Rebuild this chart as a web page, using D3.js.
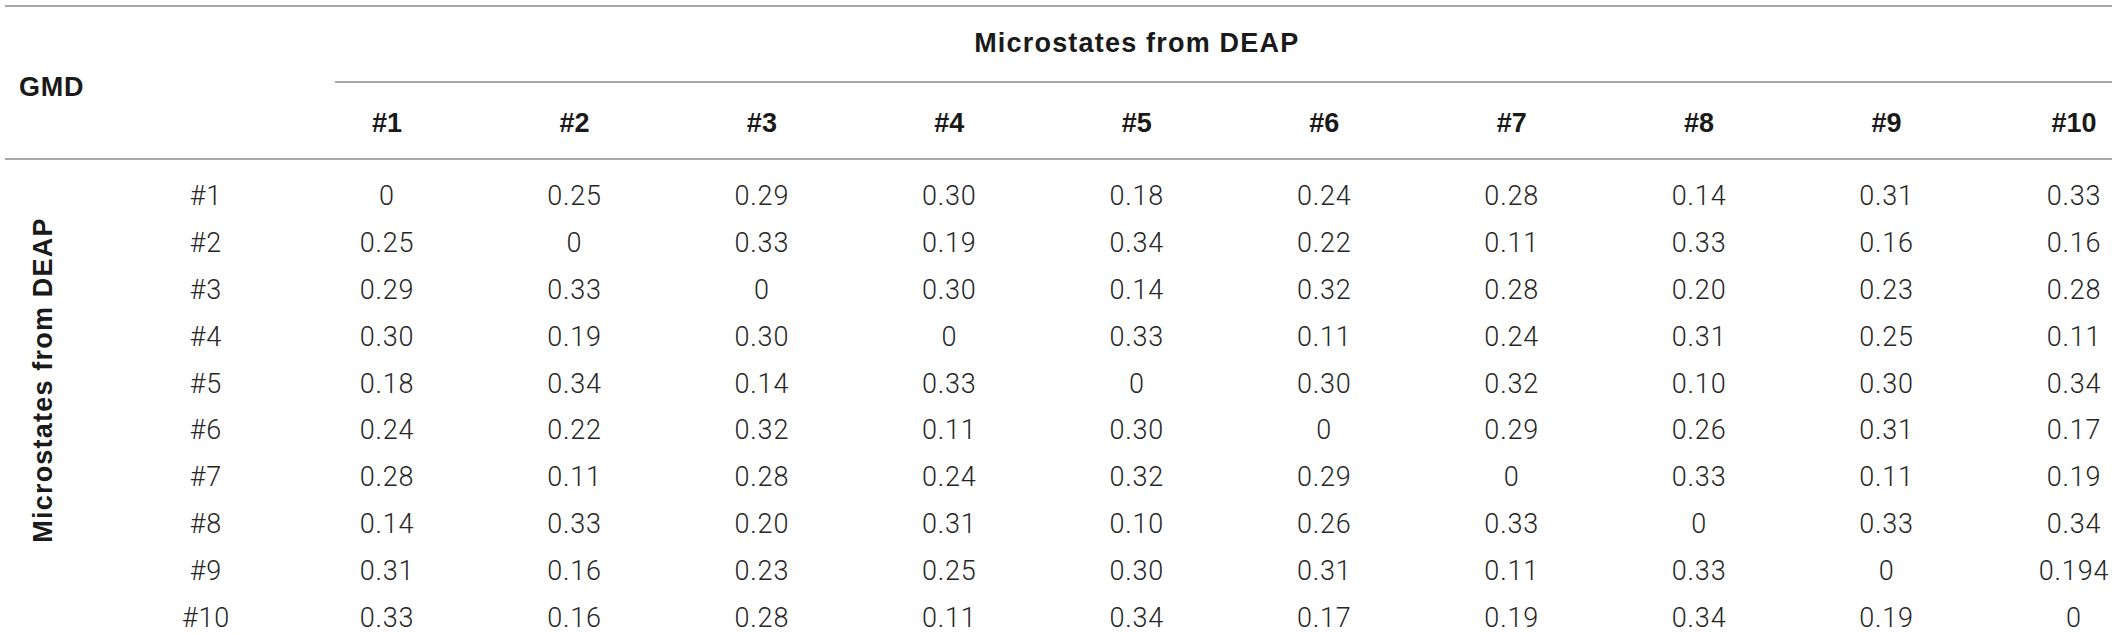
<!DOCTYPE html>
<html>
<head>
<meta charset="utf-8">
<script src="https://cdn.jsdelivr.net/npm/d3@7"></script>
<style>
  body { margin: 0; background: #fff; }
  .hd { font-family: "Liberation Sans", Arial, sans-serif; font-weight: bold; fill: #1a1a1a; }
  .val { font-family: Roboto, "Liberation Sans", sans-serif; font-weight: 300; fill: #262626; letter-spacing: 0.8px; }
</style>
</head>
<body>
<div id="chart"></div>
<script>
// column / row ids and the GMD matrix, as printed
const cols = ["#1","#2","#3","#4","#5","#6","#7","#8","#9","#10"];
const rows = ["#1","#2","#3","#4","#5","#6","#7","#8","#9","#10"];
const corner = "GMD";
const groupLabel = "Microstates from DEAP";

const r1  = ["0","0.25","0.29","0.30","0.18","0.24","0.28","0.14","0.31","0.33"];
const r2  = ["0.25","0","0.33","0.19","0.34","0.22","0.11","0.33","0.16","0.16"];
const r3  = ["0.29","0.33","0","0.30","0.14","0.32","0.28","0.20","0.23","0.28"];
const r4  = ["0.30","0.19","0.30","0","0.33","0.11","0.24","0.31","0.25","0.11"];
const r5  = ["0.18","0.34","0.14","0.33","0","0.30","0.32","0.10","0.30","0.34"];
const r6  = ["0.24","0.22","0.32","0.11","0.30","0","0.29","0.26","0.31","0.17"];
const r7  = ["0.28","0.11","0.28","0.24","0.32","0.29","0","0.33","0.11","0.19"];
const r8  = ["0.14","0.33","0.20","0.31","0.10","0.26","0.33","0","0.33","0.34"];
const r9  = ["0.31","0.16","0.23","0.25","0.30","0.31","0.11","0.33","0","0.194"];
const r10 = ["0.33","0.16","0.28","0.11","0.34","0.17","0.19","0.34","0.19","0"];
const grid = [r1,r2,r3,r4,r5,r6,r7,r8,r9,r10];

const W = 2117, H = 635;
const svg = d3.select("#chart").append("svg").attr("width",W).attr("height",H);

const x = d3.scalePoint().domain(cols).range([387,2074]);
const y = d3.scalePoint().domain(rows).range([196,618]);

// rules
const rules = [ [5,6], [335,82], [5,159] ];
svg.selectAll("line.rule").data(rules).enter()
  .append("line").attr("class","rule")
  .attr("x1",d => d[0]).attr("x2",2112)
  .attr("y1",d => d[1]).attr("y2",d => d[1])
  .attr("stroke","#8a8a8a").attr("stroke-width",1.5);

// header texts
svg.append("text").attr("class","hd")
  .attr("x",19).attr("y",87).attr("dominant-baseline","central")
  .style("font-size","27px").style("letter-spacing","0.8px")
  .text(corner);

svg.append("text").attr("class","hd")
  .attr("x",x("#5")).attr("y",43).attr("text-anchor","middle")
  .attr("dominant-baseline","central")
  .style("font-size","27px").style("letter-spacing","1.2px")
  .text(groupLabel);

svg.append("text").attr("class","hd")
  .attr("transform","translate(43,380) rotate(-90)")
  .attr("text-anchor","middle").attr("dominant-baseline","central")
  .style("font-size","27px").style("letter-spacing","1.2px")
  .text(groupLabel);

svg.selectAll("text.colh").data(cols).enter()
  .append("text").attr("class","hd colh")
  .attr("x",d => x(d)).attr("y",123)
  .attr("text-anchor","middle").attr("dominant-baseline","central")
  .style("font-size","27px")
  .text(d => d);

// row labels
svg.selectAll("text.rowh").data(rows).enter()
  .append("text").attr("class","val rowh")
  .attr("x",206).attr("y",d => y(d))
  .attr("text-anchor","middle").attr("dominant-baseline","central")
  .style("font-size","27px")
  .text(d => d);

// cells
svg.selectAll("g.row").data(grid).enter()
  .append("g").attr("class","row")
  .attr("transform",(d,i) => "translate(0,"+y(rows[i])+")")
  .selectAll("text").data(d => d).enter()
  .append("text").attr("class","val")
  .attr("x",(d,j) => x(cols[j])).attr("y",0)
  .attr("text-anchor","middle").attr("dominant-baseline","central")
  .style("font-size","27px")
  .text(d => d);
</script>
</body>
</html>
